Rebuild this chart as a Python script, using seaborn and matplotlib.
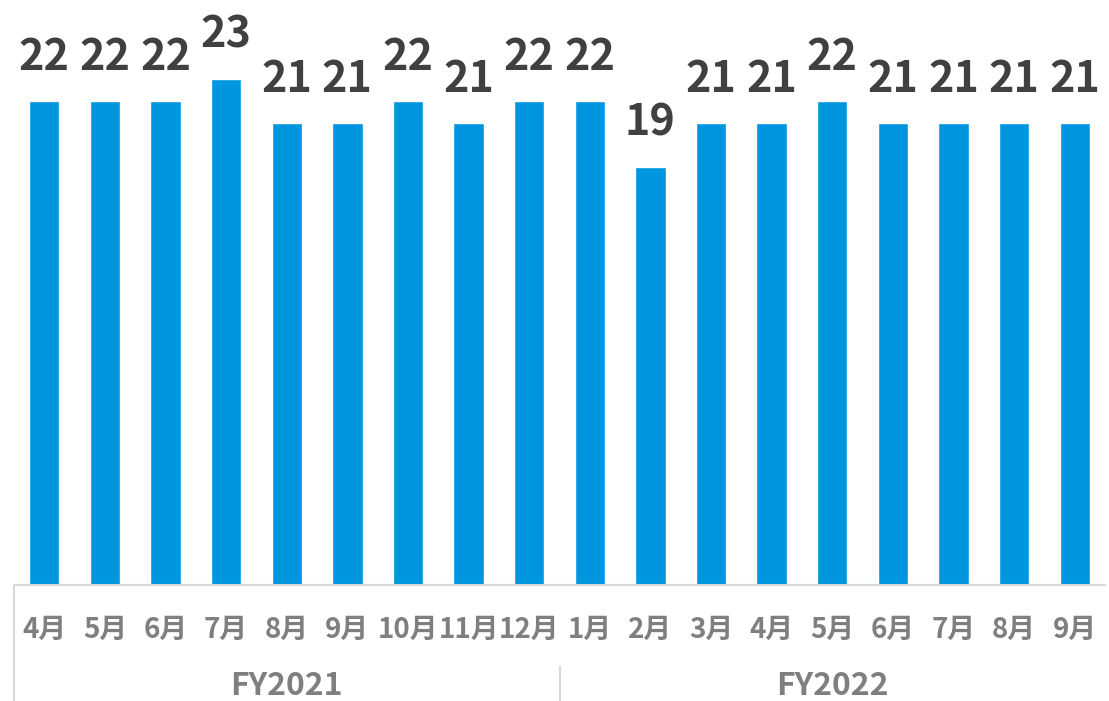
import pandas as pd
import matplotlib.pyplot as plt
import seaborn as sns
from matplotlib.transforms import blended_transform_factory

# данные
months = ["4月", "5月", "6月", "7月", "8月", "9月", "10月", "11月", "12月",
          "1月", "2月", "3月", "4月", "5月", "6月", "7月", "8月", "9月"]
years = ["FY2021"] * 9 + ["FY2022"] * 9
values = [22, 22, 22, 23, 21, 21, 22, 21, 22, 22, 19, 21, 21, 22, 21, 21, 21, 21]

df = pd.DataFrame({"month": months, "year": years, "value": values})
df["key"] = df["year"] + "-" + df["month"]

sns.set_style("white")
plt.rcParams["font.family"] = ["Noto Sans CJK JP", "DejaVu Sans"]

fig = plt.figure(figsize=(11.09, 7.01), dpi=100)
ax = fig.add_axes([14 / 1109, 116 / 701, 1091 / 1109, 585 / 701])

sns.barplot(x="key", y="value", data=df, color="#0096DF", saturation=1,
            width=0.5, ax=ax, errorbar=None)

ax.set_ylim(0, 26.6)
ax.set_xlim(-0.5, len(df) - 0.5)
ax.set_yticks([])
ax.set_xlabel("")
ax.set_ylabel("")

# подписи значений
ax.bar_label(ax.containers[0], padding=16, fontsize=31, fontweight="bold",
             color="#404040")

# оси
for side in ["top", "left", "right"]:
    ax.spines[side].set_visible(False)
ax.spines["bottom"].set_color("#d9d9d9")
ax.spines["bottom"].set_linewidth(1.5)

ax.set_xticks(range(len(df)))
ax.set_xticklabels(df["month"], fontsize=20, fontweight="bold", color="#7f7f7f")
ax.tick_params(axis="x", which="major", length=0, pad=22)
ax.set_xticks([i - 0.5 for i in range(len(df) + 1)], minor=True)
ax.tick_params(axis="x", which="minor", length=8, width=1.2, color="#d9d9d9")

# группы по годам
trans = blended_transform_factory(ax.transData, ax.transAxes)
groups = df.groupby("year", sort=False).size()
start = 0
for year, n in groups.items():
    center = start + (n - 1) / 2
    ax.text(center, -0.172, year, transform=trans, ha="center", va="center",
            fontsize=23, fontweight="bold", color="#7f7f7f")
    top = 0 if start == 0 else -0.14
    ax.plot([start - 0.5, start - 0.5], [top, -0.2], transform=trans,
            color="#d9d9d9", lw=1.5, clip_on=False)
    start += n

fig.savefig("out.png", dpi=100)
